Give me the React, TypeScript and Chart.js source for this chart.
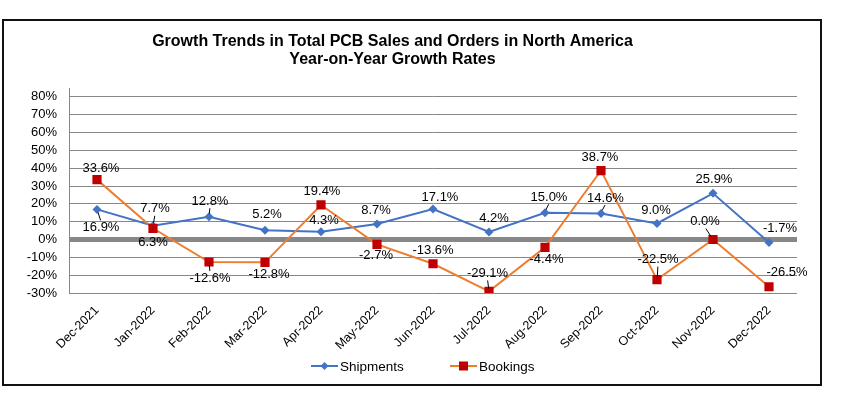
import React, { useEffect, useRef } from 'react';
import { Chart, registerables } from 'chart.js';

Chart.register(...registerables);

const FONT = "'Liberation Sans', Arial, sans-serif";

const titleLines = [
  'Growth Trends in Total PCB Sales and Orders in North America',
  'Year-on-Year Growth Rates',
];

const categories = [
  'Dec-2021', 'Jan-2022', 'Feb-2022', 'Mar-2022', 'Apr-2022', 'May-2022', 'Jun-2022',
  'Jul-2022', 'Aug-2022', 'Sep-2022', 'Oct-2022', 'Nov-2022', 'Dec-2022',
];

const shipments = [16.9, 7.7, 12.8, 5.2, 4.3, 8.7, 17.1, 4.2, 15.0, 14.6, 9.0, 25.9, -1.7];
const bookings = [33.6, 6.3, -12.6, -12.8, 19.4, -2.7, -13.6, -29.1, -4.4, 38.7, -22.5, 0.0, -26.5];

const seriesNames = ['Shipments', 'Bookings'];

const yMin = -30;
const yMax = 85;
const yStep = 10;

// label placement relative to each point (dx, dy) in px
const shipmentLabelOffsets = [
  [4, 18], [2, -17], [1, -15.5], [2, -16], [3, -11], [-1, -13.5], [7, -12],
  [5, -14], [4, -15.5], [4.5, -15.5], [-1, -13.5], [1, -13.5], [11, -14],
];
const bookingLabelOffsets = [
  [4, -11], [0, 14], [1, 16], [4, 12.5], [1, -14], [-1, 11], [0, -13],
  [-1.5, -18], [1.5, 12], [-1, -12.7], [1, -20], [-8, -18], [18, -14],
];
// which labels have a small leader line
const shipmentLeaders = [true, true, true, false, false, false, false, false, true, true, false, false, false];
const bookingLeaders = [false, false, true, false, false, false, false, true, false, false, true, true, false];

const BLUE = '#4472C4';
const ORANGE = '#ED7D31';
const RED = '#C00000';
const GRID = '#878787';

const frameTitleLegendPlugin = {
  id: 'frameTitleLegend',
  beforeDraw(chart: any) {
    const ctx = chart.ctx;
    ctx.save();
    ctx.fillStyle = '#fff';
    ctx.fillRect(0, 0, chart.width, chart.height);
    ctx.strokeStyle = '#111';
    ctx.lineWidth = 2;
    ctx.strokeRect(3, 20, 818, 365);
    ctx.restore();
  },
  afterDraw(chart: any) {
    const ctx = chart.ctx;
    ctx.save();
    // title
    ctx.font = `bold 16px ${FONT}`;
    ctx.fillStyle = '#000';
    ctx.textAlign = 'center';
    ctx.textBaseline = 'middle';
    titleLines.forEach((t, i) => ctx.fillText(t, 392.5, 42 + i * 17.6));

    // legend
    const y = 366;
    ctx.font = `13.5px ${FONT}`;
    ctx.textAlign = 'left';
    let x = 311;
    ctx.strokeStyle = BLUE;
    ctx.lineWidth = 2;
    ctx.beginPath();
    ctx.moveTo(x, y);
    ctx.lineTo(x + 27, y);
    ctx.stroke();
    ctx.fillStyle = BLUE;
    ctx.beginPath();
    ctx.moveTo(x + 13.5, y - 4);
    ctx.lineTo(x + 17.5, y);
    ctx.lineTo(x + 13.5, y + 4);
    ctx.lineTo(x + 9.5, y);
    ctx.closePath();
    ctx.fill();
    ctx.fillStyle = '#000';
    ctx.fillText(seriesNames[0], x + 29, y + 1);
    x = 450;
    ctx.strokeStyle = ORANGE;
    ctx.beginPath();
    ctx.moveTo(x, y);
    ctx.lineTo(x + 27, y);
    ctx.stroke();
    ctx.fillStyle = RED;
    ctx.fillRect(x + 9, y - 4.5, 9, 9);
    ctx.fillStyle = '#000';
    ctx.fillText(seriesNames[1], x + 29, y + 1);
    ctx.restore();
  },
};

const dataLabelPlugin = {
  id: 'dataLabels',
  afterDatasetsDraw(chart: any) {
    const ctx = chart.ctx;
    const offsets = [shipmentLabelOffsets, bookingLabelOffsets];
    const leaders = [shipmentLeaders, bookingLeaders];
    ctx.save();
    ctx.font = `13px ${FONT}`;
    ctx.fillStyle = '#000';
    ctx.strokeStyle = '#000';
    ctx.lineWidth = 1;
    ctx.textAlign = 'center';
    ctx.textBaseline = 'middle';
    chart.data.datasets.forEach((ds: any, di: number) => {
      const meta = chart.getDatasetMeta(di);
      meta.data.forEach((pt: any, i: number) => {
        const v = ds.data[i] as number;
        const [dx, dy] = offsets[di][i];
        if (leaders[di][i]) {
          const up = dy < 0;
          ctx.beginPath();
          ctx.moveTo(pt.x + dx * 0.9, pt.y + dy + (up ? 7 : -7));
          ctx.lineTo(pt.x + dx * 0.25, pt.y + (up ? -3 : 3));
          ctx.stroke();
        }
        ctx.fillText(v.toFixed(1) + '%', pt.x + dx, pt.y + dy);
      });
    });
    ctx.restore();
  },
};

export default function App() {
  const canvasRef = useRef<HTMLCanvasElement | null>(null);

  useEffect(() => {
    if (!canvasRef.current) return;
    const chart = new Chart(canvasRef.current, {
      type: 'line',
      data: {
        labels: categories,
        datasets: [
          {
            label: seriesNames[0],
            data: shipments,
            borderColor: BLUE,
            backgroundColor: BLUE,
            borderWidth: 2,
            pointStyle: 'rectRot',
            pointRadius: 4.5,
            pointBackgroundColor: BLUE,
            pointBorderColor: BLUE,
            pointBorderWidth: 0,
            tension: 0,
            order: 1,
          },
          {
            label: seriesNames[1],
            data: bookings,
            borderColor: ORANGE,
            backgroundColor: RED,
            borderWidth: 2,
            pointStyle: 'rect',
            pointRadius: 6.5,
            pointBackgroundColor: RED,
            pointBorderColor: RED,
            pointBorderWidth: 0,
            tension: 0,
            order: 0,
          },
        ],
      },
      options: {
        responsive: false,
        animation: false,
        layout: { padding: { left: 0, right: 44, top: 0, bottom: 50 } },
        plugins: {
          legend: { display: false },
          tooltip: { enabled: false },
          title: {
            display: true,
            text: titleLines,
            color: 'rgba(0,0,0,0)',
            font: { family: FONT, size: 16, weight: 'bold', lineHeight: 1.1 },
            padding: { top: 33.2, bottom: 19.6 },
          },
        },
        scales: {
          x: {
            offset: true,
            grid: { display: false, drawTicks: false },
            border: { display: false },
            ticks: {
              color: '#000',
              font: { family: FONT, size: 12.5 },
              minRotation: 45,
              maxRotation: 45,
              autoSkip: false,
              padding: 10,
            },
            afterFit(scale: any) {
              scale.height = 56;
            },
          },
          y: {
            min: yMin,
            max: yMax,
            grid: {
              color: GRID,
              lineWidth: (c: any) => (c.tick && c.tick.value === 0 ? 5 : 1),
              drawTicks: false,
            },
            border: { display: true, color: GRID, width: 1 },
            ticks: {
              stepSize: yStep,
              includeBounds: false,
              color: '#000',
              font: { family: FONT, size: 13 },
              padding: 12,
              callback: (v: any) => `${v}%`,
            },
            afterFit(scale: any) {
              scale.width = 69;
            },
          },
        },
      },
      plugins: [frameTitleLegendPlugin, dataLabelPlugin],
    } as any);
    return () => chart.destroy();
  }, []);

  return (
    <div style={{ position: 'absolute', left: 0, top: 0, width: 841, height: 399, background: '#fff' }}>
      <canvas ref={canvasRef} width={841} height={399} style={{ display: 'block', width: 841, height: 399 }} />
    </div>
  );
}
